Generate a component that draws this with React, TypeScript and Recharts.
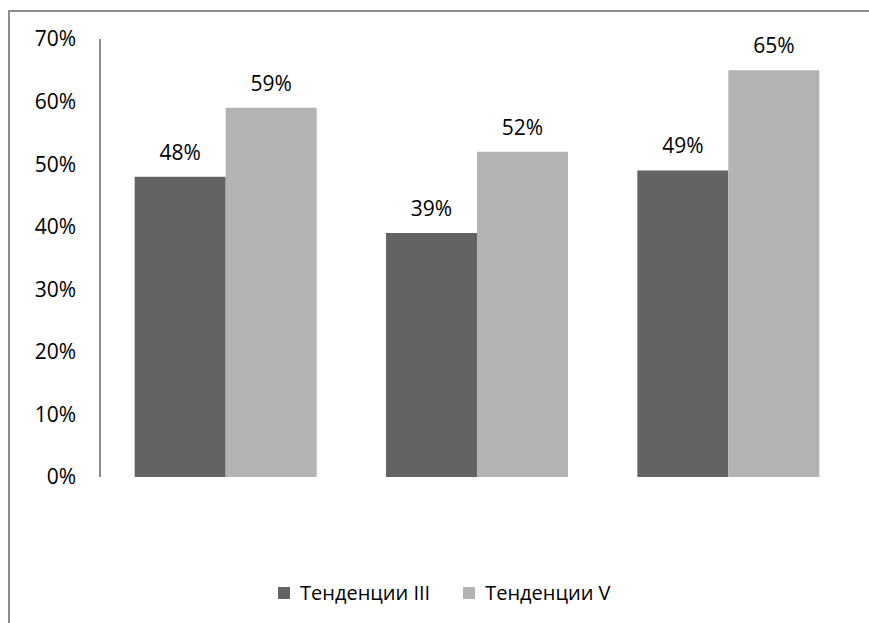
import React from 'react';
import { BarChart, Bar, XAxis, YAxis, LabelList, Legend } from 'recharts';

const categories = ['1', '2', '3'];
const tendencyIII = [48, 39, 49];
const tendencyV = [59, 52, 65];
const yTicks = [0, 10, 20, 30, 40, 50, 60, 70];
const seriesNames = ['Тенденции III', 'Тенденции V'];
const colors = ['#636363', '#b3b3b3'];

const data = categories.map((c, i) => ({ cat: c, a: tendencyIII[i], b: tendencyV[i] }));

const FONT = '"Open Sans", sans-serif';

const LegendContent = () => (
  <div style={{ display: 'flex', alignItems: 'center', fontFamily: FONT, fontSize: 20, color: '#000' }}>
    {seriesNames.map((n, i) => (
      <div key={n} style={{ display: 'flex', alignItems: 'center', marginRight: i === 0 ? 33 : 0 }}>
        <div style={{ width: 12, height: 12, background: colors[i], marginRight: 10 }} />
        <span>{n}</span>
      </div>
    ))}
  </div>
);

export default function App() {
  return (
    <div style={{ position: 'absolute', left: 0, top: 0, width: 869, height: 623, overflow: 'hidden', background: '#fff' }}>
      <div style={{ position: 'absolute', left: 8, top: 10, width: 900, height: 700, border: '2px solid #8c8c8c', boxSizing: 'border-box' }} />
      <div style={{ position: 'absolute', left: 0, top: 0 }}>
        <BarChart width={869} height={623} data={data} margin={{ top: 39, right: 15, left: 0, bottom: 146 }} barCategoryGap="13.8%" barGap={0}>
          <XAxis dataKey="cat" tick={false} tickLine={false} height={0} axisLine={{ stroke: '#8c8c8c', strokeWidth: 2 }} />
          <YAxis
            width={100}
            domain={[0, 70]}
            ticks={yTicks}
            tickFormatter={(v) => `${v}%`}
            tickLine={false}
            tickSize={0}
            tickMargin={24}
            axisLine={{ stroke: '#8c8c8c', strokeWidth: 2 }}
            tick={{ fill: '#000', fontSize: 21, fontFamily: FONT }}
          />
          <Legend verticalAlign="middle" align="center" layout="horizontal" content={<LegendContent />} wrapperStyle={{ top: 579, left: 278, width: 400 }} />
          <Bar dataKey="a" name={seriesNames[0]} fill={colors[0]} isAnimationActive={false}>
            <LabelList dataKey="a" position="top" offset={17} formatter={(v) => `${v}%`} style={{ fill: '#000', fontSize: 21, fontFamily: FONT }} />
          </Bar>
          <Bar dataKey="b" name={seriesNames[1]} fill={colors[1]} isAnimationActive={false}>
            <LabelList dataKey="b" position="top" offset={17} formatter={(v) => `${v}%`} style={{ fill: '#000', fontSize: 21, fontFamily: FONT }} />
          </Bar>
        </BarChart>
      </div>
    </div>
  );
}
